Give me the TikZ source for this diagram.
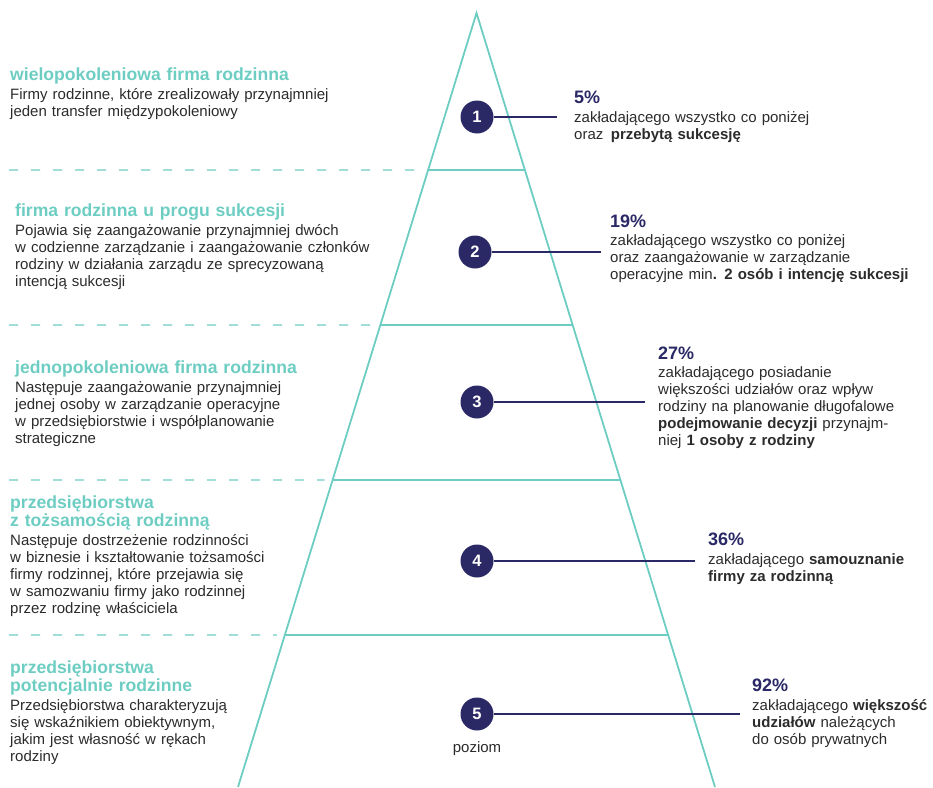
\documentclass[tikz,border=0pt]{standalone}
\usepackage{fontspec}
\setmainfont{Liberation Sans}
\usetikzlibrary{calc}
\definecolor{pyrteal}{HTML}{6DCDC2}
\definecolor{navy}{HTML}{2A2966}
\definecolor{txt}{HTML}{2B2B2B}
\tikzset{
  pyr/.style={draw=pyrteal, line width=1.8pt},
  dashline/.style={draw=pyrteal, line width=1.4pt, dash pattern=on 9pt off 13pt},
  num/.style={circle, fill=navy, minimum size=33pt, inner sep=0pt, text=white, font=\fontsize{16.5}{16.5}\selectfont\bfseries},
  conn/.style={draw=navy, line width=1.1pt},
  head/.style={text=pyrteal, font=\fontsize{17.6}{18.5}\selectfont\bfseries, anchor=base west, inner sep=0pt, align=left, text width=420pt},
  body/.style={text=txt, font=\fontsize{15}{17}\selectfont, anchor=base west, inner sep=0pt, align=left, text width=420pt},
  lbl/.style={text=txt, font=\fontsize{15}{17}\selectfont, anchor=base, inner sep=0pt},
  pct/.style={text=navy, font=\fontsize{18}{18}\selectfont\bfseries, anchor=base west, inner sep=0pt},
}
\begin{document}
\begin{tikzpicture}[x=1pt, y=-1pt]
\useasboundingbox (0,0) rectangle (933,787);
% pyramid
\coordinate (A) at (476.5,13);
\coordinate (BL) at (238,787);
\coordinate (BR) at (715,787);
\draw[pyr] (BL) -- (A) -- (BR);
\foreach \i/\y in {1/170,2/325,3/480,4/635}{
  \coordinate (L\i) at ($(A)!{(\y-13)/774}!(BL)$);
  \coordinate (R\i) at ($(A)!{(\y-13)/774}!(BR)$);
  \coordinate (D\i) at (9,\y);
  \draw[pyr] (L\i) -- (R\i);
  \draw[dashline] (D\i) -- ($(L\i)+(-8,0)$);
}
% circles and connectors
\node[num] (c1) at (477,117) {1};
\node[num] (c2) at (475,252) {2};
\node[num] (c3) at (477,402) {3};
\node[num] (c4) at (477,561) {4};
\node[num] (c5) at (477,714) {5};
\coordinate (e1) at (557,117);
\coordinate (e2) at (601,252);
\coordinate (e3) at (645,402);
\coordinate (e4) at (695,561);
\coordinate (e5) at (740,714);
\foreach \i in {1,...,5}{\draw[conn] (c\i.east) -- (e\i);}
\node[lbl] (poz) at (477,752) {poziom};
% right texts
\node[pct] (p1) at (574,103) {5\%};
\node[body] (t1) at (574,122) {zakładającego wszystko co poniżej\\oraz\, \textbf{przebytą sukcesję}};
\node[pct] (p2) at (610,227) {19\%};
\node[body] (t2) at (610,245) {zakładającego wszystko co poniżej\\oraz zaangażowanie w zarządzanie\\operacyjne min\textbf{. 2 osób i intencję sukcesji}};
\node[pct] (p3) at (658,359) {27\%};
\node[body] (t3) at (658,377) {zakładającego posiadanie\\większości udziałów oraz wpływ\\rodziny na planowanie długofalowe\\\textbf{podejmowanie decyzji} przynajm-\\niej \textbf{1 osoby z rodziny}};
\node[pct] (p4) at (708,545) {36\%};
\node[body] (t4) at (708,564) {zakładającego \textbf{samouznanie}\\\textbf{firmy za rodzinną}};
\node[pct] (p5) at (752,691) {92\%};
\node[body] (t5) at (752,710) {zakładającego \textbf{większość}\\\textbf{udziałów} należących\\do osób prywatnych};
% left texts
\node[head] (h1) at (10,80) {wielopokoleniowa firma rodzinna};
\node[body] (b1) at (10,99) {Firmy rodzinne, które zrealizowały przynajmniej\\jeden transfer międzypokoleniowy};
\node[head] (h2) at (15,216) {firma rodzinna u progu sukcesji};
\node[body] (b2) at (15,235) {Pojawia się zaangażowanie przynajmniej dwóch\\w codzienne zarządzanie i zaangażowanie członków\\rodziny w działania zarządu ze sprecyzowaną\\intencją sukcesji};
\node[head] (h3) at (15,373) {jednopokoleniowa firma rodzinna};
\node[body] (b3) at (15,392) {Następuje zaangażowanie przynajmniej\\jednej osoby w zarządzanie operacyjne\\w przedsiębiorstwie i współplanowanie\\strategiczne};
\node[head] (h4) at (10,508) {przedsiębiorstwa\\z tożsamością rodzinną};
\node[body] (b4) at (10,545) {Następuje dostrzeżenie rodzinności\\w biznesie i kształtowanie tożsamości\\firmy rodzinnej, które przejawia się\\w samozwaniu firmy jako rodzinnej\\przez rodzinę właściciela};
\node[head] (h5) at (10,673) {przedsiębiorstwa\\potencjalnie rodzinne};
\node[body] (b5) at (10,710) {Przedsiębiorstwa charakteryzują\\się wskaźnikiem obiektywnym,\\jakim jest własność w rękach\\rodziny};
\end{tikzpicture}
\end{document}
